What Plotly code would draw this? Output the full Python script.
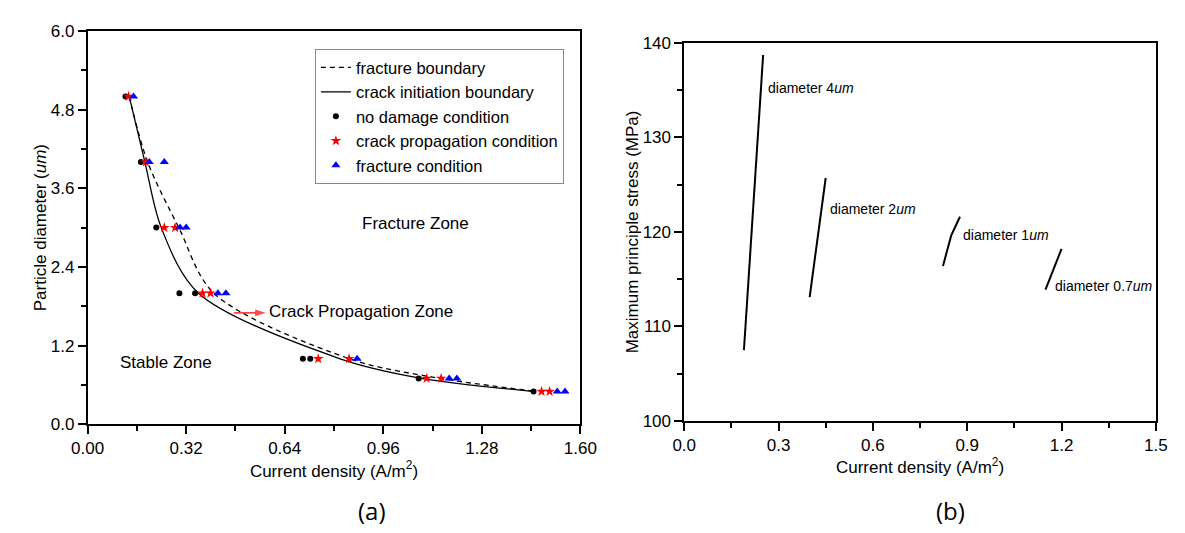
import plotly.graph_objects as go

W, H = 1185, 533

# ---------------- Panel (a) data ----------------
frac_bnd_x = [0.135, 0.195, 0.296, 0.41, 0.85, 1.12, 1.46]
frac_bnd_y = [5.0, 4.0, 3.0, 2.0, 1.0, 0.72, 0.5]
crack_bnd_x = [0.135, 0.186, 0.239, 0.36, 0.82, 1.075, 1.45]
crack_bnd_y = [5.0, 4.0, 3.0, 2.0, 1.0, 0.71, 0.5]

nodmg_x = [0.123, 0.173, 0.223, 0.298, 0.349, 0.699, 0.723, 1.075, 1.448]
nodmg_y = [5.0, 4.0, 3.0, 2.0, 2.0, 1.0, 1.0, 0.7, 0.5]
crackp_x = [0.133, 0.189, 0.249, 0.284, 0.373, 0.399, 0.749, 0.849, 1.101, 1.148, 1.474, 1.500]
crackp_y = [5.0, 4.0, 3.0, 3.0, 2.0, 2.0, 1.0, 1.0, 0.7, 0.7, 0.5, 0.5]
fract_x = [0.149, 0.200, 0.249, 0.300, 0.320, 0.423, 0.449, 0.875, 1.174, 1.199, 1.525, 1.550]
fract_y = [5.0, 4.0, 4.0, 3.0, 3.0, 2.0, 2.0, 1.0, 0.7, 0.7, 0.5, 0.5]

arrow_x = [0.475, 0.578]
arrow_y = [1.70, 1.70]

xticks_a = [0.00, 0.32, 0.64, 0.96, 1.28, 1.60]
yticks_a = [0.0, 1.2, 2.4, 3.6, 4.8, 6.0]

# ---------------- Panel (b) data ----------------
d4_x = [0.190, 0.2207, 0.251]
d4_y = [107.5, 123.2, 138.7]
d2_x = [0.399, 0.450]
d2_y = [113.1, 125.7]
d1_x = [0.823, 0.849, 0.877]
d1_y = [116.4, 119.6, 121.6]
d07_x = [1.149, 1.200]
d07_y = [113.9, 118.2]
labels_b = ["diameter 4<i>um</i>", "diameter 2<i>um</i>", "diameter 1<i>um</i>", "diameter 0.7<i>um</i>"]
label_x_b = [0.260, 0.4575, 0.880, 1.173]
label_y_b = [135.2, 122.4, 119.7, 114.3]

xticks_b = [0.0, 0.3, 0.6, 0.9, 1.2, 1.5]
yticks_b = [100, 110, 120, 130, 140]

FONT = "Liberation Sans, Arial, sans-serif"

fig = go.Figure()

fig.add_trace(go.Scatter(x=frac_bnd_x, y=frac_bnd_y, mode="lines", name="fracture boundary",
                         line=dict(color="black", width=1.3, dash="5px,4px", shape="spline", smoothing=0.9),
                         xaxis="x", yaxis="y"))
fig.add_trace(go.Scatter(x=crack_bnd_x, y=crack_bnd_y, mode="lines", name="crack initiation boundary",
                         line=dict(color="black", width=1.3, shape="spline", smoothing=0.9),
                         xaxis="x", yaxis="y"))
fig.add_trace(go.Scatter(x=nodmg_x, y=nodmg_y, mode="markers", name="no damage condition",
                         marker=dict(symbol="circle", color="black", size=6),
                         xaxis="x", yaxis="y"))
fig.add_trace(go.Scatter(x=crackp_x, y=crackp_y, mode="markers", name="crack propagation condition",
                         marker=dict(symbol="star", color="red", size=8),
                         xaxis="x", yaxis="y"))
fig.add_trace(go.Scatter(x=fract_x, y=fract_y, mode="markers", name="fracture condition",
                         marker=dict(symbol="triangle-up", color="blue", size=8),
                         xaxis="x", yaxis="y"))
# red arrow pointing to "Crack Propagation Zone"
fig.add_trace(go.Scatter(x=arrow_x, y=arrow_y, mode="lines+markers", showlegend=False, hoverinfo="skip",
                         line=dict(color="red", width=1.3),
                         marker=dict(symbol=["circle", "arrow"], size=[0, 11], color="red",
                                     angleref="previous", line=dict(width=0)),
                         xaxis="x", yaxis="y"))

for xs, ys in [(d4_x, d4_y), (d2_x, d2_y), (d1_x, d1_y), (d07_x, d07_y)]:
    fig.add_trace(go.Scatter(x=xs, y=ys, mode="lines", showlegend=False,
                             line=dict(color="black", width=2), xaxis="x2", yaxis="y2"))

def px(x):
    return x / W

def py(y):
    return 1 - y / H

axis_common = dict(showline=True, linecolor="black", linewidth=1.5, mirror=True,
                   ticks="outside", ticklen=8, tickwidth=1.5, tickcolor="black",
                   showgrid=False, zeroline=False,
                   tickfont=dict(family=FONT, size=17, color="black"))
title_font = dict(family=FONT, size=17, color="black")

fig.update_layout(
    width=W, height=H,
    margin=dict(l=0, r=0, t=0, b=0),
    paper_bgcolor="white", plot_bgcolor="white",
    font=dict(family=FONT, color="black"),
    xaxis=dict(domain=[px(72.7), px(580)], range=[0, 1.6], tickvals=xticks_a, tickformat=".2f",
               minor=dict(dtick=0.16, ticks="outside", ticklen=5, tickwidth=1.5, tickcolor="black"),
               title=dict(text="Current density (A/m<sup>2</sup>)", font=title_font, standoff=6),
               anchor="y", **axis_common),
    yaxis=dict(domain=[py(430.7), py(22.7)], range=[0, 6], tickvals=yticks_a, tickformat=".1f",
               minor=dict(dtick=0.6, ticks="outside", ticklen=5, tickwidth=1.5, tickcolor="black"),
               title=dict(text="Particle diameter (<i>um</i>)", font=title_font, standoff=0),
               anchor="x", **axis_common),
    xaxis2=dict(domain=[px(686.9), px(1172.5)], range=[0, 1.5], tickvals=xticks_b, tickformat=".1f",
                minor=dict(dtick=0.15, ticks="outside", ticklen=5, tickwidth=1.5, tickcolor="black"),
                title=dict(text="Current density (A/m<sup>2</sup>)", font=title_font, standoff=0),
                anchor="y2", **axis_common),
    yaxis2=dict(domain=[py(427.3), py(35)], range=[100, 140], tickvals=yticks_b,
                minor=dict(dtick=5, ticks="outside", ticklen=5, tickwidth=1.5, tickcolor="black"),
                title=dict(text="Maximum principle stress (MPa)", font=title_font, standoff=0),
                anchor="x2", **axis_common),
    legend=dict(x=px(306.7), y=py(41.7), xanchor="left", yanchor="top",
                bgcolor="white", bordercolor="#888888", borderwidth=1,
                font=dict(family=FONT, size=16.5, color="black"),
                tracegroupgap=0, itemwidth=30),
    showlegend=True,
)

ann = []
# panel labels
ann.append(dict(text="(a)", x=px(366), y=py(520), xref="paper", yref="paper", showarrow=False,
                font=dict(family="Open Sans, sans-serif", size=24), xanchor="center", yanchor="middle"))
ann.append(dict(text="(b)", x=px(961), y=py(520), xref="paper", yref="paper", showarrow=False,
                font=dict(family="Open Sans, sans-serif", size=24), xanchor="center", yanchor="middle"))
# zone labels
ann.append(dict(text="Fracture Zone", x=1.064, y=3.07, xref="x", yref="y", showarrow=False,
                font=dict(family=FONT, size=17), xanchor="center", yanchor="middle"))
ann.append(dict(text="Stable Zone", x=0.256, y=0.94, xref="x", yref="y", showarrow=False,
                font=dict(family=FONT, size=17), xanchor="center", yanchor="middle"))
ann.append(dict(text="Crack Propagation Zone", x=0.584, y=1.72, xref="x", yref="y", showarrow=False,
                font=dict(family=FONT, size=17), xanchor="left", yanchor="middle"))
# panel (b) labels
for t, lx, ly in zip(labels_b, label_x_b, label_y_b):
    ann.append(dict(text=t, x=lx, y=ly, xref="x2", yref="y2", showarrow=False,
                    font=dict(family=FONT, size=14), xanchor="left", yanchor="middle"))

fig.update_layout(annotations=ann)

fig.write_html("out.html", config={"displayModeBar": False},
               post_script="document.body.style.margin='0px';document.body.style.overflow='hidden';")
